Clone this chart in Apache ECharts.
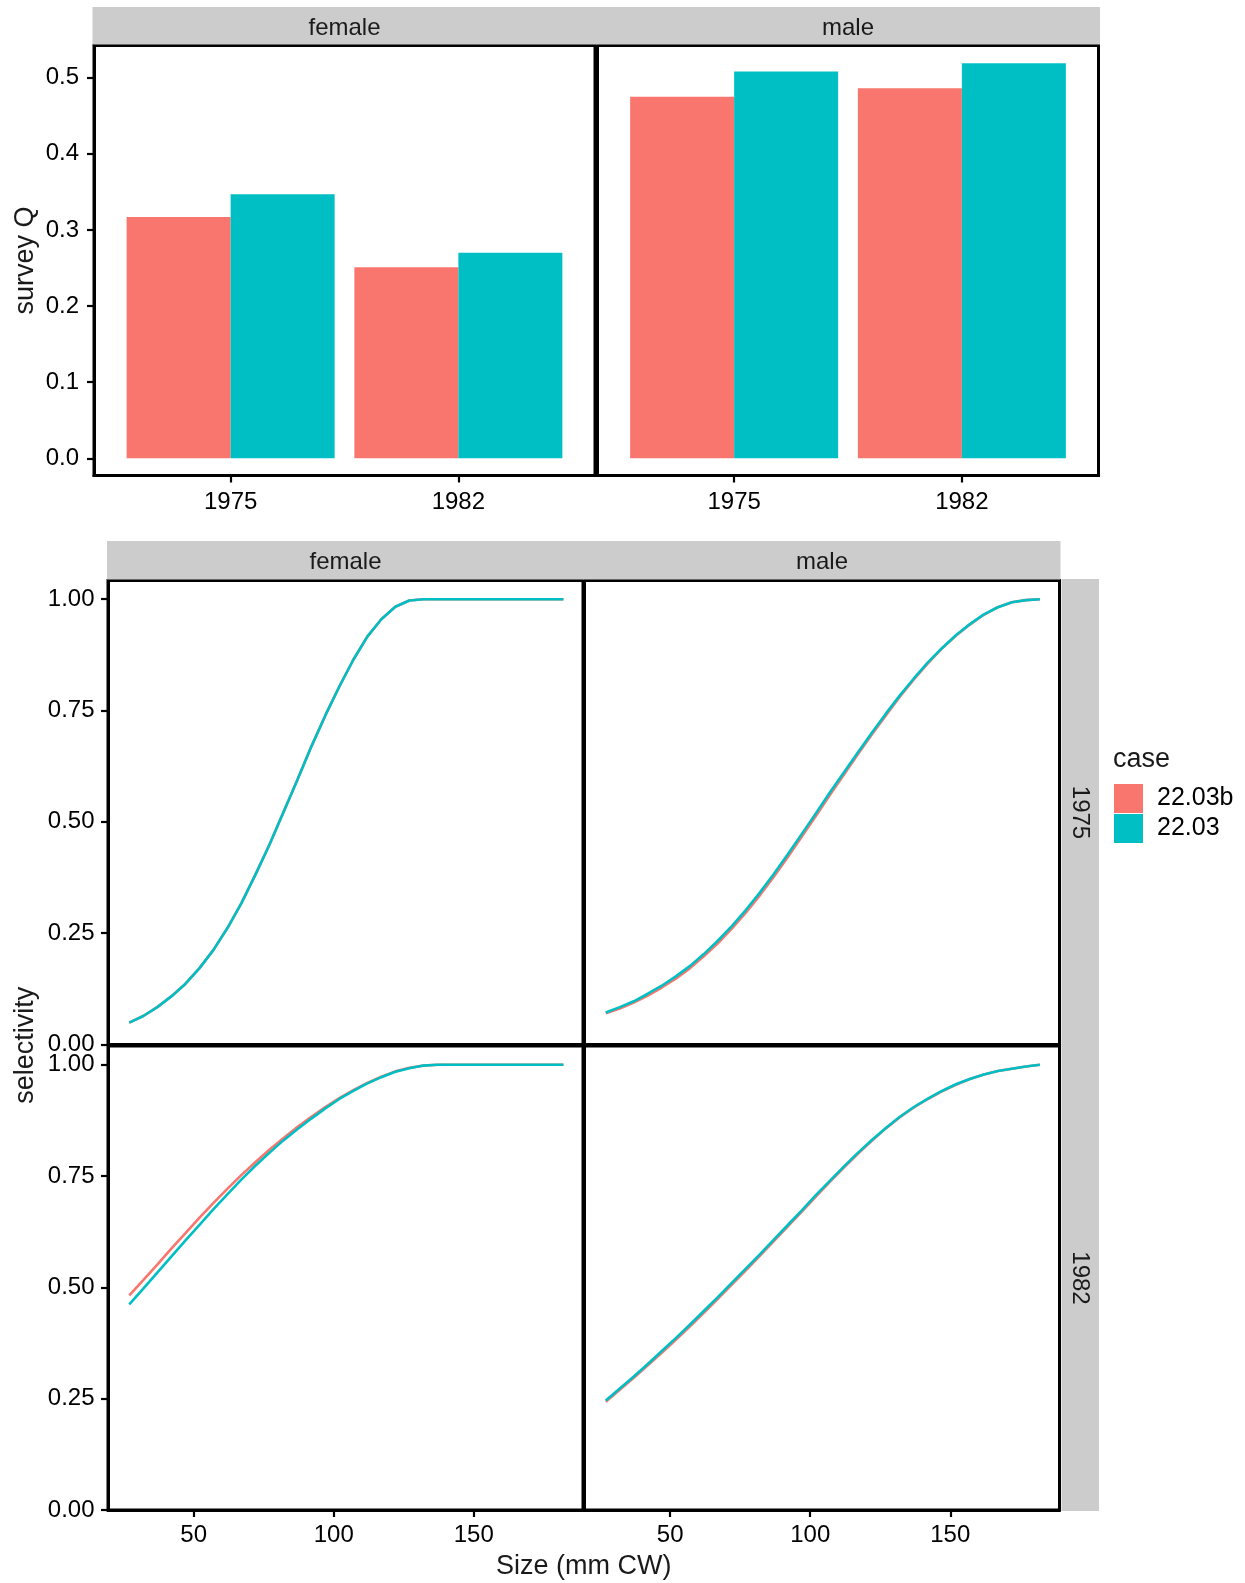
<!DOCTYPE html>
<html><head><meta charset="utf-8">
<script src="https://cdn.jsdelivr.net/npm/echarts@6/dist/echarts.min.js"></script>
<style>html,body{margin:0;padding:0;background:#fff}#c{width:1245px;height:1583px}</style>
</head><body><div id="c"></div><script>
// ---------------- data ----------------
const caseNames = ['22.03b', '22.03'];
const barYears = ['1975', '1982'];
const barPos = [1, 2];
const qFemale_2203b = [0.317, 0.251];
const qFemale_2203  = [0.347, 0.270];
const qMale_2203b   = [0.475, 0.486];
const qMale_2203    = [0.508, 0.519];
const qTicks = [0, 0.1, 0.2, 0.3, 0.4, 0.5];

const sizes = [27, 32, 37, 42, 47, 52, 57, 62, 67, 72, 77, 82, 87, 92, 97, 102,
               107, 112, 117, 122, 127, 132, 137, 142, 147, 152, 157, 162, 167, 172, 177, 182];
const sizeTicks = [50, 100, 150];
const selTicks = [0, 0.25, 0.5, 0.75, 1];

const selF1975_2203b = [0.049, 0.064, 0.084, 0.108, 0.136, 0.171, 0.212, 0.261, 0.317, 0.381, 0.448, 0.521, 0.594, 0.669, 0.739, 0.804,
                        0.864, 0.916, 0.955, 0.983, 0.997, 1.0, 1.0, 1.0, 1.0, 1.0, 1.0, 1.0, 1.0, 1.0, 1.0, 1.0];
const selF1975_2203  = [0.049, 0.064, 0.084, 0.108, 0.136, 0.171, 0.212, 0.261, 0.317, 0.381, 0.448, 0.521, 0.594, 0.669, 0.739, 0.804,
                        0.864, 0.916, 0.955, 0.983, 0.997, 1.0, 1.0, 1.0, 1.0, 1.0, 1.0, 1.0, 1.0, 1.0, 1.0, 1.0];
const selM1975_2203b = [0.070, 0.081, 0.094, 0.110, 0.128, 0.148, 0.171, 0.198, 0.227, 0.260, 0.296, 0.335, 0.377, 0.421, 0.467, 0.513,
                        0.560, 0.606, 0.652, 0.696, 0.739, 0.781, 0.820, 0.856, 0.889, 0.918, 0.943, 0.965, 0.982, 0.993, 0.998, 1.0];
const selM1975_2203  = [0.072, 0.084, 0.097, 0.114, 0.132, 0.153, 0.176, 0.203, 0.233, 0.266, 0.302, 0.341, 0.383, 0.427, 0.473, 0.519,
                        0.566, 0.611, 0.656, 0.700, 0.743, 0.784, 0.822, 0.858, 0.890, 0.919, 0.944, 0.966, 0.982, 0.993, 0.998, 1.0];
const selF1982_2203b = [0.482, 0.516, 0.551, 0.587, 0.621, 0.656, 0.689, 0.721, 0.752, 0.781, 0.809, 0.835, 0.860, 0.883, 0.905, 0.925,
                        0.943, 0.959, 0.973, 0.985, 0.993, 0.998, 1.0, 1.0, 1.0, 1.0, 1.0, 1.0, 1.0, 1.0, 1.0, 1.0];
const selF1982_2203  = [0.462, 0.497, 0.533, 0.569, 0.605, 0.640, 0.675, 0.709, 0.742, 0.773, 0.802, 0.830, 0.855, 0.879, 0.902, 0.923,
                        0.941, 0.958, 0.972, 0.984, 0.992, 0.998, 1.0, 1.0, 1.0, 1.0, 1.0, 1.0, 1.0, 1.0, 1.0, 1.0];
const selM1982_2203b = [0.243, 0.270, 0.297, 0.325, 0.353, 0.382, 0.412, 0.443, 0.474, 0.506, 0.538, 0.571, 0.604, 0.637, 0.670, 0.704,
                        0.737, 0.769, 0.800, 0.829, 0.857, 0.882, 0.904, 0.923, 0.940, 0.955, 0.968, 0.978, 0.986, 0.991, 0.996, 1.0];
const selM1982_2203  = [0.246, 0.273, 0.300, 0.328, 0.357, 0.386, 0.416, 0.447, 0.478, 0.510, 0.542, 0.574, 0.607, 0.640, 0.673, 0.707,
                        0.739, 0.771, 0.802, 0.831, 0.858, 0.883, 0.905, 0.924, 0.941, 0.956, 0.968, 0.978, 0.986, 0.991, 0.996, 1.0];

// ---------------- style / layout ----------------
const FONT = '"Liberation Sans", Arial, Helvetica, sans-serif';
const RED = '#F8766D', TEAL = '#00BFC4';
const STRIP = '#cccccc';
const TXT = 24, TITLE = 27;

const topGrids = [
  {left: 94, top: 45.5, width: 501, height: 430},
  {left: 597.5, top: 45.5, width: 501, height: 430}
];
const botGrids = [
  {left: 108, top: 580.5, width: 475, height: 464},   // female 1975
  {left: 584.5, top: 580.5, width: 475, height: 464}, // male 1975
  {left: 108, top: 1046, width: 475, height: 464},    // female 1982
  {left: 584.5, top: 1046, width: 475, height: 464}   // male 1982
];
const Q_MIN = -0.0226, Q_MAX = 0.5423;
const X_MIN = 19.4, X_MAX = 189.0;
const S_MIN = 0, S_MAX = 1.042;

const grids = topGrids.concat(botGrids).map(g => Object.assign({
  show: true, borderColor: '#000', borderWidth: 3, backgroundColor: 'transparent', containLabel: false
}, g));

const axisLineStyle = {show: true, onZero: false, lineStyle: {color: '#000', width: 3}};
const tickStyle = (vals) => ({show: true, customValues: vals, length: 7, inside: false, lineStyle: {color: '#000', width: 2.2}});
const labelStyle = (vals, fmt, margin, show, pad) => ({show: show, customValues: vals, formatter: fmt, margin: margin,
  fontSize: TXT, color: '#000', fontFamily: FONT, padding: pad || 0});

const xAxes = [];
const yAxes = [];
// top bar panels
for (let i = 0; i < 2; i++) {
  xAxes.push({gridIndex: i, type: 'value', min: 0.4, max: 2.6, axisLine: axisLineStyle,
    axisTick: tickStyle(barPos), axisLabel: labelStyle(barPos, v => barYears[barPos.indexOf(v)], 15, true),
    splitLine: {show: false}});
  yAxes.push({gridIndex: i, type: 'value', min: Q_MIN, max: Q_MAX,
    axisLine: Object.assign({}, axisLineStyle, {show: i === 0}),
    axisTick: Object.assign(tickStyle(qTicks), {show: i === 0}),
    axisLabel: labelStyle(qTicks, v => v.toFixed(1), 15, i === 0, [6, 0, 0, 0]),
    splitLine: {show: false}});
}
// bottom selectivity panels
for (let k = 0; k < 4; k++) {
  const gi = 2 + k;
  const bottomRow = k >= 2, leftCol = (k % 2) === 0;
  xAxes.push({gridIndex: gi, type: 'value', min: X_MIN, max: X_MAX,
    axisLine: Object.assign({}, axisLineStyle, {show: bottomRow}),
    axisTick: Object.assign(tickStyle(sizeTicks), {show: bottomRow}),
    axisLabel: labelStyle(sizeTicks, v => String(v), 13, bottomRow),
    splitLine: {show: false}});
  yAxes.push({gridIndex: gi, type: 'value', min: S_MIN, max: S_MAX,
    axisLine: Object.assign({}, axisLineStyle, {show: leftCol}),
    axisTick: Object.assign(tickStyle(selTicks), {show: leftCol}),
    axisLabel: labelStyle(selTicks, v => v.toFixed(2), 13.5, leftCol, [7, 0, 0, 0]),
    splitLine: {show: false}});
}

const barW = 104;
const series = [];
const barSets = [[qFemale_2203b, qFemale_2203], [qMale_2203b, qMale_2203]];
barSets.forEach((pair, gi) => {
  pair.forEach((vals, ci) => {
    series.push({type: 'bar', name: caseNames[ci], xAxisIndex: gi, yAxisIndex: gi,
      data: barPos.map((x, j) => [x, vals[j]]), barWidth: barW, barGap: '0%',
      itemStyle: {color: ci === 0 ? RED : TEAL}, silent: true});
  });
});
const lineSets = [[selF1975_2203b, selF1975_2203], [selM1975_2203b, selM1975_2203],
                  [selF1982_2203b, selF1982_2203], [selM1982_2203b, selM1982_2203]];
lineSets.forEach((pair, k) => {
  pair.forEach((vals, ci) => {
    const col = ci === 0 ? RED : TEAL;
    series.push({type: 'line', name: caseNames[ci], xAxisIndex: 2 + k, yAxisIndex: 2 + k,
      data: sizes.map((s, j) => [s, vals[j]]), showSymbol: false, symbol: 'none',
      lineStyle: {color: col, width: 2.6}, itemStyle: {color: col}, z: 2 + ci, silent: true});
  });
});

// strips and titles
const txt = (text, x, y, size, rot, align) => ({type: 'text', x: x, y: y, rotation: rot || 0, silent: true, z: 10,
  style: {text: text, fontSize: size, fontFamily: FONT, fill: '#1a1a1a', textAlign: align || 'center', textVerticalAlign: 'middle'}});
const rect = (x, y, w, h) => ({type: 'rect', silent: true, z: 5, shape: {x: x, y: y, width: w, height: h}, style: {fill: STRIP}});

const graphics = [];
const sexes = ['female', 'male'];
// top strips
topGrids.forEach((g, i) => {
  graphics.push(rect(g.left - 1.5, 7, g.width + 3, g.top - 7 - 1));
  graphics.push(txt(sexes[i], g.left + g.width / 2, 28, TXT));
});
// bottom column strips
[botGrids[0], botGrids[1]].forEach((g, i) => {
  graphics.push(rect(g.left - 1, 541, g.width + 2, g.top - 541 - 1));
  graphics.push(txt(sexes[i], g.left + g.width / 2, 562, TXT));
});
// bottom row strips
[botGrids[1], botGrids[3]].forEach((g, i) => {
  const x0 = g.left + g.width + 2;
  graphics.push(rect(x0, g.top - 1.5, 37.5, g.height + 2.5));
  graphics.push(txt(barYears[i], x0 + 18, g.top + g.height / 2, TXT, -Math.PI / 2));
});
// axis titles
graphics.push(txt('survey Q', 26, topGrids[0].top + topGrids[0].height / 2, TITLE, Math.PI / 2));
graphics.push(txt('selectivity', 26, (botGrids[0].top + botGrids[2].top + botGrids[2].height) / 2, TITLE, Math.PI / 2));
graphics.push(txt('Size (mm CW)', (botGrids[0].left + botGrids[1].left + botGrids[1].width) / 2, 1567, TITLE));
graphics.push(txt('case', 1113, 760, TITLE, 0, 'left'));

const option = {
  animation: false,
  backgroundColor: '#ffffff',
  textStyle: {fontFamily: FONT},
  grid: grids,
  xAxis: xAxes,
  yAxis: yAxes,
  legend: {
    data: caseNames, orient: 'vertical', left: 1114, top: 784, padding: 0,
    itemWidth: 29, itemHeight: 29, itemGap: 1, icon: 'rect', selectedMode: false,
    itemStyle: {borderWidth: 0},
    textStyle: {fontSize: 25, fontFamily: FONT, color: '#000', padding: [3, 0, 0, 9]}
  },
  graphic: graphics,
  series: series
};

const chart = echarts.init(document.getElementById('c'), null, {renderer: 'canvas'});
chart.setOption(option);
</script></body></html>
